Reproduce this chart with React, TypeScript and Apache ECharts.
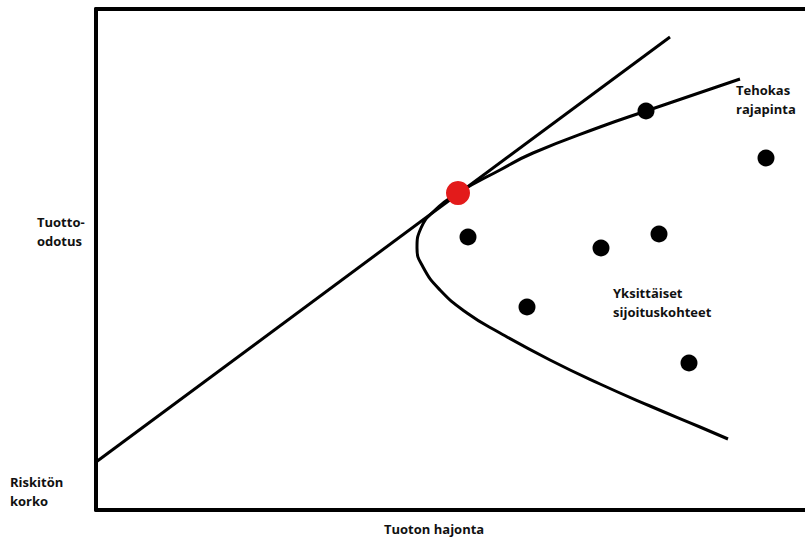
import React, { useEffect, useRef } from "react";
import * as echarts from "echarts";

// Capital market line (risk σ, expected return)
const cmlLine: [number, number][] = [
  [0, 1.92],
  [28.7, 18.92],
];

// Efficient frontier (upper end → lower end)
const frontier: [number, number][] = [
  [32.2, 17.24],
  [27.5, 15.96],
  [25.2, 15.32],
  [21.85, 14.28],
  [20.2, 13.6],
  [18.1, 12.68],
  [16.85, 11.92],
  [16.25, 11.28],
  [16.05, 10.48],
  [16.35, 9.72],
  [17.2, 8.8],
  [18.55, 7.88],
  [20.2, 7.08],
  [22.7, 6.0],
  [25.2, 5.04],
  [27.7, 4.16],
  [30.2, 3.32],
  [31.6, 2.84],
];

// Individual assets
const assets: [number, number][] = [
  [27.5, 15.96],
  [33.5, 14.08],
  [18.6, 10.92],
  [25.25, 10.48],
  [28.15, 11.04],
  [21.55, 8.12],
  [29.65, 5.88],
];

// Tangency portfolio
const tangency: [number, number][] = [[18.1, 12.68]];

const labelFont = {
  fontFamily: "'Open Sans', 'Noto Sans', sans-serif",
  fontWeight: "bold",
  fontSize: 13,
  fill: "#111",
  lineHeight: 19,
};

export default function App() {
  const ref = useRef<HTMLDivElement>(null);
  useEffect(() => {
    if (!ref.current) return;
    const chart = echarts.init(ref.current, null, { renderer: "svg" });
    chart.setOption({
      animation: false,
      backgroundColor: "#ffffff",
      grid: { left: 96, top: 9, right: 0, bottom: 29 },
      xAxis: [
        {
          type: "value",
          min: 0,
          max: 35.45,
          position: "bottom",
          axisLine: { show: true, onZero: false, lineStyle: { color: "#000", width: 4 } },
          axisTick: { show: false },
          axisLabel: { show: false },
          splitLine: { show: false },
        },
        {
          type: "value",
          min: 0,
          max: 35.45,
          position: "top",
          axisLine: { show: true, onZero: false, lineStyle: { color: "#000", width: 4 } },
          axisTick: { show: false },
          axisLabel: { show: false },
          splitLine: { show: false },
        },
      ],
      yAxis: {
        type: "value",
        min: 0,
        max: 20.04,
        axisLine: { show: true, onZero: false, lineStyle: { color: "#000", width: 4 } },
        axisTick: { show: false },
        axisLabel: { show: false },
        splitLine: { show: false },
      },
      series: [
        {
          type: "line",
          data: cmlLine,
          symbol: "none",
          lineStyle: { color: "#000", width: 3 },
          z: 2,
        },
        {
          type: "line",
          data: frontier,
          symbol: "none",
          smooth: 0.5,
          lineStyle: { color: "#000", width: 3 },
          z: 2,
        },
        {
          type: "scatter",
          data: assets,
          symbolSize: 17,
          itemStyle: { color: "#000", opacity: 1 },
          z: 3,
        },
        {
          type: "scatter",
          data: tangency,
          symbolSize: 24,
          itemStyle: { color: "#e31b1b", opacity: 1 },
          z: 4,
        },
      ],
      graphic: [
        { type: "text", left: 736, top: 80, style: { ...labelFont, text: "Tehokas\nrajapinta" } },
        { type: "text", left: 37, top: 212, style: { ...labelFont, text: "Tuotto-\nodotus" } },
        { type: "text", left: 10, top: 472, style: { ...labelFont, text: "Riskitön\nkorko" } },
        { type: "text", left: 384, top: 519, style: { ...labelFont, text: "Tuoton hajonta" } },
        { type: "text", left: 613, top: 283, style: { ...labelFont, text: "Yksittäiset\nsijoituskohteet" } },
      ],
    });
    return () => chart.dispose();
  }, []);
  return (
    <div
      ref={ref}
      style={{ position: "fixed", left: 0, top: 0, width: 805, height: 539 }}
    />
  );
}
